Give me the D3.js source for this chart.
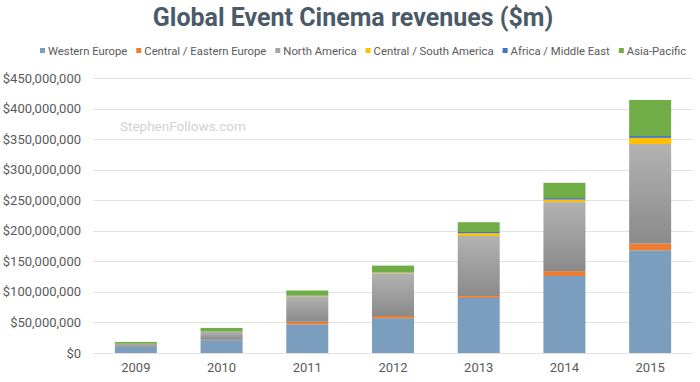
<!DOCTYPE html>
<html>
<head>
<meta charset="utf-8">
<script src="https://cdn.jsdelivr.net/npm/d3@7.9.0/dist/d3.min.js"></script>
<style>
  body { margin: 0; background: #fff; }
  svg { display: block; font-family: Roboto, "Noto Sans", sans-serif; }
</style>
</head>
<body>
<div id="chart"></div>
<script>
// ---------------------- Data ($m) ----------------------
const years = ['2009', '2010', '2011', '2012', '2013', '2014', '2015'];
const regions = ['Western Europe', 'Central / Eastern Europe', 'North America',
  'Central / South America', 'Africa / Middle East', 'Asia-Pacific'];
const westernEurope = [10, 21, 47, 57, 90, 126, 168];
const centralEastEurope = [0.3, 0.5, 4, 3.5, 3, 8, 11];
const northAmerica = [4.5, 13, 42, 70, 98.5, 113, 163];
const centralSouthAmerica = [0.2, 0.3, 0.5, 1, 4.5, 4, 10];
const africaMiddleEast = [0.1, 0.2, 0.3, 0.5, 2, 2.5, 3];
const asiaPacific = [3, 6, 8.5, 11, 16, 25, 59];
const yTicks = [0, 50, 100, 150, 200, 250, 300, 350, 400, 450];

const colors = ['#7b9ebe', '#ed7d31', 'url(#grayGrad)', '#ffc000', '#4472c4', '#70ad47'];
const legendColors = ['#7b9ebe', '#ed7d31', '#a5a5a5', '#ffc000', '#4472c4', '#70ad47'];

// ---------------------- Chart ----------------------
const width = 700, height = 382;
const margin = { top: 78, right: 7, bottom: 29, left: 93 };

const table = years.map((y, i) => ({
  year: y,
  'Western Europe': westernEurope[i],
  'Central / Eastern Europe': centralEastEurope[i],
  'North America': northAmerica[i],
  'Central / South America': centralSouthAmerica[i],
  'Africa / Middle East': africaMiddleEast[i],
  'Asia-Pacific': asiaPacific[i]
}));
const series = d3.stack().keys(regions)(table);

const svg = d3.select('#chart').append('svg')
  .attr('width', width).attr('height', height);

const grad = svg.append('defs').append('linearGradient')
  .attr('id', 'grayGrad').attr('x1', 0).attr('y1', 0).attr('x2', 0).attr('y2', 1);
grad.append('stop').attr('offset', '0%').attr('stop-color', '#b2b2b2');
grad.append('stop').attr('offset', '100%').attr('stop-color', '#8a8a8a');

const x = d3.scaleBand().domain(years)
  .range([margin.left, width - margin.right]).paddingInner(0.51).paddingOuter(0.255);
const y = d3.scaleLinear().domain([0, 450])
  .range([height - margin.bottom, margin.top]);

// title
svg.append('text')
  .attr('x', 353).attr('y', 26)
  .attr('text-anchor', 'middle')
  .attr('font-size', 25).attr('font-weight', 'bold')
  .attr('fill', '#4b5a68')
  .text('Global Event Cinema revenues ($m)');

// gridlines
svg.append('g').selectAll('line').data(yTicks).join('line')
  .attr('x1', margin.left).attr('x2', width - margin.right)
  .attr('y1', d => Math.round(y(d)) + 0.5).attr('y2', d => Math.round(y(d)) + 0.5)
  .attr('stroke', '#e2e2e2').attr('stroke-width', 1);

// watermark
svg.append('text')
  .attr('x', 120).attr('y', 131)
  .attr('font-size', 13.5).attr('fill', '#d2d2d2')
  .text('StephenFollows.com');

// y axis labels
const fmt = d3.format(',');
svg.append('g').selectAll('text').data(yTicks).join('text')
  .attr('x', 81).attr('y', d => y(d) + 4.5)
  .attr('text-anchor', 'end')
  .attr('font-size', 13).attr('fill', '#5a5a5a')
  .text(d => '$' + (d === 0 ? '0' : fmt(d * 1000000)));

// x axis labels
svg.append('g').selectAll('text').data(years).join('text')
  .attr('x', d => x(d) + x.bandwidth() / 2).attr('y', 372)
  .attr('text-anchor', 'middle')
  .attr('font-size', 13).attr('fill', '#5a5a5a')
  .text(d => d);

// bars
svg.append('g').selectAll('g').data(series).join('g')
  .attr('fill', (d, i) => colors[i])
  .selectAll('rect').data(d => d).join('rect')
  .attr('x', d => x(d.data.year))
  .attr('width', x.bandwidth())
  .attr('y', d => y(d[1]))
  .attr('height', d => y(d[0]) - y(d[1]));

// legend
const legend = svg.append('g').attr('font-size', 11.3).attr('fill', '#595959');
let lx = 40;
regions.forEach((r, i) => {
  legend.append('rect')
    .attr('x', lx).attr('y', 48).attr('width', 5).attr('height', 5)
    .attr('fill', legendColors[i]);
  const t = legend.append('text')
    .attr('x', lx + 8).attr('y', 54.5)
    .text(r);
  lx += 8 + t.node().getComputedTextLength() + 9;
});
</script>
</body>
</html>
